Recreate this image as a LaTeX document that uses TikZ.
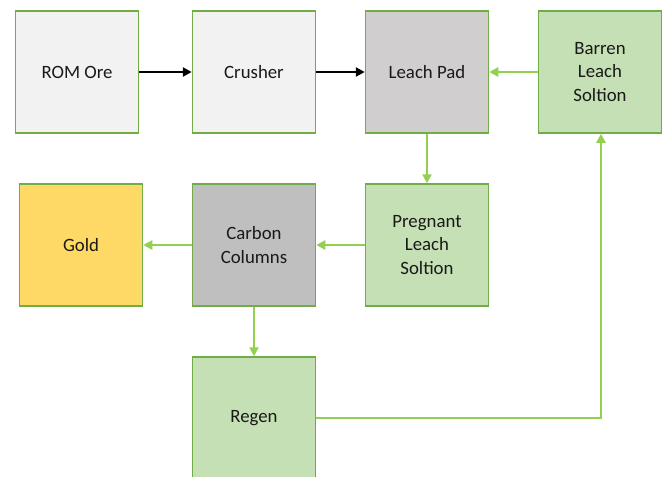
\documentclass[tikz,border=0pt]{standalone}
\usepackage{fontspec}
\setmainfont{Carlito}
\usetikzlibrary{arrows.meta}
\definecolor{bordergreen}{HTML}{70AD47}
\definecolor{arrowgreen}{HTML}{92D050}
\definecolor{lightfill}{HTML}{F2F2F2}
\definecolor{padfill}{HTML}{D0CECE}
\definecolor{carbonfill}{HTML}{BFBFBF}
\definecolor{greenfill}{HTML}{C5E0B4}
\definecolor{goldfill}{HTML}{FFD966}
\tikzset{
  box/.style={draw=bordergreen, line width=1.5pt, minimum width=123pt, minimum height=122pt,
    inner sep=0pt, align=center, font=\fontsize{18.8}{23.5}\selectfont, text=black!90},
  blackarrow/.style={line width=2.5pt, black, -{Triangle[length=9pt,width=9pt]}},
  greenarrow/.style={line width=2.5pt, arrowgreen, -{Triangle[length=9pt,width=9pt]}}
}
\begin{document}
\begin{tikzpicture}[x=1pt,y=-1pt]
\clip (0,0) rectangle (670,477);
\fill[white] (0,0) rectangle (670,477);
\node[box, fill=lightfill] (rom) at (77,72) {ROM Ore};
\node[box, fill=lightfill] (crusher) at (254,72) {Crusher};
\node[box, fill=padfill] (pad) at (427,72) {Leach Pad};
\node[box, fill=greenfill] (barren) at (600,72) {Barren\\Leach\\Soltion};
\node[box, fill=goldfill] (gold) at (81,245) {Gold};
\node[box, fill=carbonfill] (carbon) at (254,245) {Carbon\\Columns};
\node[box, fill=greenfill] (pregnant) at (427,245) {Pregnant\\Leach\\Soltion};
\node[box, fill=greenfill] (regen) at (254,418) {Regen};
\coordinate (corner) at (601,418);
\draw[blackarrow] (rom) -- (crusher);
\draw[blackarrow] (crusher) -- (pad);
\draw[greenarrow] (barren) -- (pad);
\draw[greenarrow] (pad) -- (pregnant);
\draw[greenarrow] (pregnant) -- (carbon);
\draw[greenarrow] (carbon) -- (gold);
\draw[greenarrow] (carbon) -- (regen);
\draw[greenarrow] (regen.east) -- (corner) -- (barren.south -| corner);
\end{tikzpicture}
\end{document}
